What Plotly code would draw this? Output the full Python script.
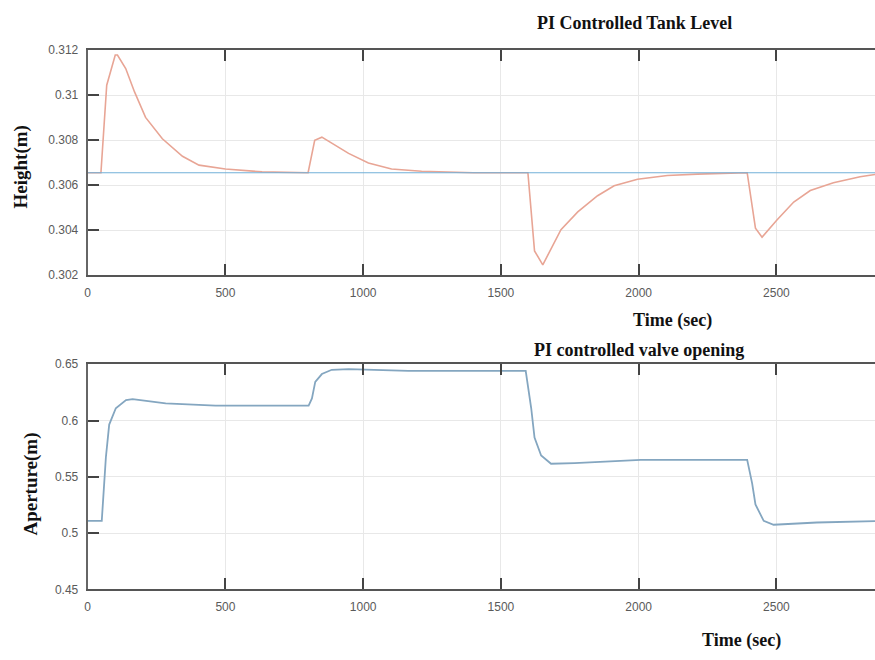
import plotly.graph_objects as go
from plotly.subplots import make_subplots

# ---- Data ----
t_height = [0, 48, 69, 100, 108, 138, 170, 210, 271, 344, 404, 500, 633, 800,
            824, 850, 947, 1019, 1103, 1212, 1400, 1598, 1622, 1652, 1718, 1779,
            1851, 1911, 1996, 2104, 2213, 2394, 2424, 2448, 2502, 2563, 2623,
            2707, 2804, 2858]
height = [0.30655, 0.30655, 0.31044, 0.31178, 0.31178, 0.31118, 0.31014, 0.30901,
          0.30806, 0.30728, 0.30689, 0.30672, 0.30659, 0.30655, 0.30799, 0.30813,
          0.30741, 0.30698, 0.30672, 0.30662, 0.30655, 0.30655, 0.30308, 0.30246,
          0.30402, 0.30481, 0.30553, 0.30597, 0.30626, 0.30643, 0.30649, 0.30655,
          0.30409, 0.30369, 0.30445, 0.30525, 0.30576, 0.30611, 0.30637, 0.30647]

t_setpoint = [0, 2858]
setpoint = [0.30655, 0.30655]

t_aperture = [0, 51, 66, 78, 102, 139, 163, 283, 464, 802, 814, 826, 850, 886,
              947, 1067, 1164, 1590, 1610, 1622, 1646, 1682, 1767, 2008, 2394,
              2412, 2424, 2454, 2490, 2647, 2858]
aperture = [0.5109, 0.5109, 0.5674, 0.5964, 0.6109, 0.6181, 0.6190, 0.6152,
            0.6132, 0.6132, 0.6196, 0.6343, 0.6413, 0.6451, 0.6457, 0.6448,
            0.6442, 0.6442, 0.6109, 0.5848, 0.5689, 0.5616, 0.5622, 0.5650,
            0.5650, 0.5442, 0.5254, 0.5109, 0.5074, 0.5094, 0.5106]

x_ticks = [0, 500, 1000, 1500, 2000, 2500]
x_ticktext = ["0", "500", "1000", "1500", "2000", "2500"]
h_ticks = [0.302, 0.304, 0.306, 0.308, 0.310, 0.312]
h_ticktext = ["0.302", "0.304", "0.306", "0.308", "0.31", "0.312"]
a_ticks = [0.45, 0.50, 0.55, 0.60, 0.65]
a_ticktext = ["0.45", "0.5", "0.55", "0.6", "0.65"]

W, H = 875, 660

fig = make_subplots(rows=2, cols=1)

fig.add_trace(go.Scatter(x=t_height, y=height, mode="lines",
                         line=dict(color="#E8A595", width=1.6), showlegend=False), row=1, col=1)
fig.add_trace(go.Scatter(x=t_setpoint, y=setpoint, mode="lines",
                         line=dict(color="#72B0D8", width=1.2), showlegend=False), row=1, col=1)
fig.add_trace(go.Scatter(x=t_aperture, y=aperture, mode="lines",
                         line=dict(color="#84A6C0", width=1.8), showlegend=False), row=2, col=1)

def px_dom(top, bottom):
    return [1 - bottom / H, 1 - top / H]

tickfont = dict(family="Liberation Sans, Arial, sans-serif", size=12, color="#5A5A5A")

xcommon = dict(range=[0, 2858], tickvals=x_ticks, ticktext=x_ticktext,
               showline=True, linecolor="#555555", linewidth=2, mirror="ticks",
               ticks="inside", ticklen=11, tickwidth=2, tickcolor="#444444",
               showgrid=True, gridcolor="#E8E8E8", gridwidth=1, zeroline=False,
               tickfont=tickfont, ticklabelstandoff=5, domain=[85 / W, 1.0])
ycommon = dict(showline=True, linecolor="#666666", linewidth=2, mirror=False,
               ticks="inside", ticklen=11, tickwidth=2, tickcolor="#444444",
               showgrid=True, gridcolor="#E8E8E8", gridwidth=1, zeroline=False,
               tickfont=tickfont, ticklabelstandoff=5)

fig.update_xaxes(**xcommon)
fig.update_yaxes(**ycommon)
fig.update_yaxes(range=[0.302, 0.312], tickvals=h_ticks, ticktext=h_ticktext,
                 domain=px_dom(44, 274), row=1, col=1)
fig.update_yaxes(range=[0.45, 0.65], tickvals=a_ticks, ticktext=a_ticktext,
                 domain=px_dom(365, 595), row=2, col=1)

serif_bold = "Liberation Serif, Times New Roman, serif"

def label(text, x, y, size=19, angle=0):
    fig.add_annotation(text="<b>" + text + "</b>", x=x / W, y=1 - y / H,
                       xref="paper", yref="paper", showarrow=False,
                       textangle=angle, xanchor="center", yanchor="middle",
                       font=dict(family=serif_bold, size=size, color="#111111"))

label("PI Controlled Tank Level", 634, 16, size=18)
label("Time (sec)", 672, 320, size=18)
label("PI controlled valve opening", 638, 350, size=18)
label("Time (sec)", 741, 647, size=18)
label("Height(m)", 18, 163, size=19, angle=-90)
label("Aperture(m)", 28, 487, size=19, angle=-90)

fig.update_layout(width=W, height=H, margin=dict(l=0, r=0, t=0, b=0),
                  paper_bgcolor="white", plot_bgcolor="white")

fig.write_html("out.html")
